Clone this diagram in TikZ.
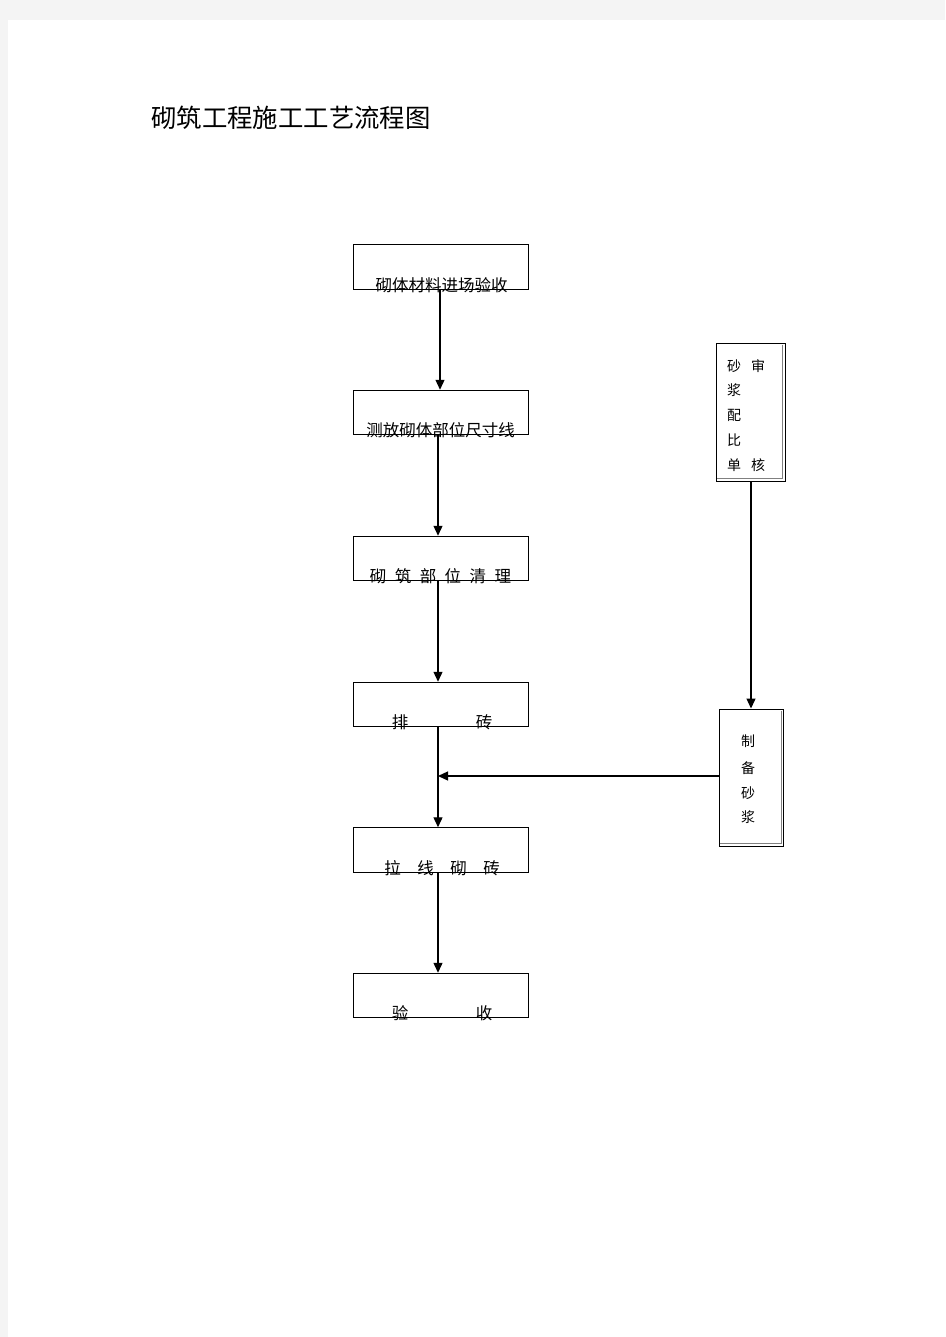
\documentclass[tikz,border=0pt]{standalone}
\usepackage{fontspec}
\setmainfont{Noto Sans CJK SC}
\usetikzlibrary{arrows.meta}
\definecolor{pagegray}{HTML}{F4F4F4}
\tikzset{>={Triangle[length=10pt,width=9pt]}}
\tikzset{stepbox/.style={draw = black, line width = 1pt, minimum width = 175pt, minimum height = 44.5pt, inner sep = 0pt},
  slipbox/.style={draw = black, line width = 1pt, inner sep = 0pt},
  steptext/.style={anchor = base, inner sep = 0pt, font = \fontsize{16.5pt}{18pt}\selectfont},
  sliptext/.style={anchor = base, inner sep = 0pt, font = \fontsize{14pt}{16pt}\selectfont},
  flow/.style={draw, ->, line width = 1.3pt}}

\begin{document}
\begin{tikzpicture}[x = 1pt, y = -1pt]

\useasboundingbox (0, 0) rectangle (945, 1337);
\fill[pagegray] (0, 0) rectangle (945, 1337);
\fill[white] (8, 20) rectangle (945, 1337);

\node[anchor = base west, inner sep = 0pt, font = \fontsize{25.4pt}{28pt}\selectfont] (title) at (151, 127.5) {砌筑工程施工工艺流程图};

% main column
\node[stepbox] (b1) at (440.5, 267) {};
\node[stepbox] (b2) at (440.5, 412.5) {};
\node[stepbox] (b3) at (440.5, 558.5) {};
\node[stepbox] (b4) at (440.5, 704.5) {};
\node[stepbox] (b5) at (440.5, 850) {};
\node[stepbox] (b6) at (440.5, 995.5) {};

\node[steptext] (t1) at ([xshift = 1pt, yshift = -1.5pt]b1.south) {砌体材料进场验收};
\node[steptext] (t2) at ([yshift = -1.5pt]b2.south) {测放砌体部位尺寸线};
\node[steptext] (t3) at ([yshift = -1.5pt]b3.south) {砌\hspace{8.5pt}筑\hspace{8.5pt}部\hspace{8.5pt}位\hspace{8.5pt}清\hspace{8.5pt}理};
\node[steptext] (t4) at ([xshift = 1.5pt, yshift = -1.5pt]b4.south) {排\hspace{67.5pt}砖};
\node[steptext] (t5) at ([xshift = 1.5pt, yshift = -1.5pt]b5.south) {拉\hspace{16.5pt}线\hspace{16.5pt}砌\hspace{16.5pt}砖};
\node[steptext] (t6) at ([xshift = 1.5pt, yshift = -1.5pt]b6.south) {验\hspace{67.5pt}收};

% side column
\node[slipbox, minimum width = 69pt, minimum height = 138pt] (mix) at (750.5, 412) {};
\node[slipbox, minimum width = 64pt, minimum height = 137pt] (mortar) at (751, 777.5) {};
\draw[gray, line width = 0.8pt] ([xshift = -3pt, yshift = -2pt]mix.north east) -- ([xshift = -3pt, yshift = 3pt]mix.south east) -- ([xshift = 1pt, yshift = 3pt]mix.south west);
\draw[gray, line width = 0.8pt] ([xshift = -2.5pt, yshift = -2pt]mortar.north east) -- ([xshift = -2.5pt, yshift = 3pt]mortar.south east) -- ([xshift = 1pt, yshift = 3pt]mortar.south west);

\node[sliptext] (m1) at (734, 371) {砂};
\node[sliptext] (m2) at (734, 395.5) {浆};
\node[sliptext] (m3) at (734, 420.5) {配};
\node[sliptext] (m4) at (734, 445) {比};
\node[sliptext] (m5) at (734, 470) {单};
\node[sliptext] (m6) at (758, 371) {审};
\node[sliptext] (m7) at (758, 470) {核};

\node[sliptext] (p1) at (748, 746) {制};
\node[sliptext] (p2) at (748, 773) {备};
\node[sliptext] (p3) at (748, 798) {砂};
\node[sliptext] (p4) at (748, 822) {浆};

% connectors
\path [flow] ([xshift = -0.5pt]b1.south) -- ([xshift = -0.5pt]b2.north);
\foreach \a/\b in {b2/b3, b3/b4, b4/b5, b5/b6}{\path [flow] ([xshift = -2.5pt]\a.south) -- ([xshift = -2.5pt]\b.north);}
\path [flow] (mix.south -| mortar.north) -- (mortar.north);
\coordinate (join) at (438, 776);
\path [flow] (mortar.west |- join) -- (join);

\end{tikzpicture}
\end{document}
